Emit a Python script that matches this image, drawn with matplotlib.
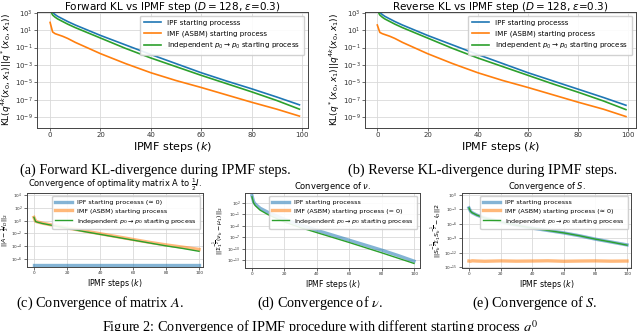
import matplotlib.pyplot as plt
import numpy as np

W, H = 640, 331

# ---- data (log10 values) ----
k_top = [0, 1, 2, 3, 5, 7, 10, 15, 20, 30, 40, 50, 60, 70, 80, 90, 99]
fwd_ipf = [3.6, 3.05, 2.8, 2.6, 2.3, 2.0, 1.6, 1.0, 0.4, -0.7, -1.8, -2.85, -3.9, -4.85, -5.75, -6.7, -7.6]
fwd_imf = [1.9, 0.8, 0.6, 0.5, 0.3, 0.05, -0.4, -1.05, -1.7, -2.85, -3.9, -4.8, -5.6, -6.45, -7.3, -8.1, -8.9]
fwd_ind = [3.3, 2.75, 2.5, 2.3, 2.0, 1.7, 1.3, 0.7, 0.1, -1.1, -2.2, -3.2, -4.2, -5.15, -6.1, -7.1, -8.1]

rev_ipf = [3.6, 3.05, 2.8, 2.6, 2.3, 2.0, 1.6, 1.0, 0.4, -0.7, -1.8, -2.85, -3.9, -4.85, -5.8, -6.75, -7.65]
rev_imf = [1.6, 0.75, 0.6, 0.5, 0.3, 0.05, -0.4, -1.05, -1.7, -2.85, -3.9, -4.8, -5.6, -6.45, -7.3, -8.1, -8.95]
rev_ind = [3.3, 2.75, 2.5, 2.3, 2.0, 1.7, 1.3, 0.7, 0.1, -1.1, -2.2, -3.2, -4.2, -5.2, -6.15, -7.15, -8.15]

k_bot = [0, 1, 2, 5, 10, 20, 30, 40, 50, 60, 70, 80, 90, 100]
A_ipf = [-7.0] * 14
A_imf = [0.5, -0.1, -0.2, -0.4, -0.65, -1.15, -1.6, -2.05, -2.5, -2.95, -3.4, -3.8, -4.15, -4.5]
A_ind = [0.5, -0.15, -0.25, -0.45, -0.7, -1.2, -1.7, -2.15, -2.6, -3.05, -3.5, -3.95, -4.35, -4.8]

nu_ipf = [3.9, 2.3, 1.7, 0.6, -0.5, -2.3, -3.8, -5.2, -6.5, -7.8, -9.1, -10.4, -11.8, -13.3]
nu_imf = [0.0] * 14
nu_ind = [3.6, 2.0, 1.3, 0.1, -1.1, -3.0, -4.5, -5.8, -7.1, -8.4, -9.75, -11.1, -12.5, -13.9]

S_ipf = [-2.7, -3.4, -3.7, -4.2, -4.8, -5.6, -6.3, -6.9, -7.4, -7.9, -8.5, -9.2, -9.8, -10.4]
S_imf = [-13.75, -13.8, -13.7, -13.75, -13.8, -13.72, -13.78, -13.75, -13.7, -13.8, -13.75, -13.72, -13.78, -13.75]
S_ind = [-2.7, -3.4, -3.7, -4.2, -4.8, -5.6, -6.3, -6.9, -7.4, -7.9, -8.5, -9.2, -9.8, -10.45]

lab_ipf = "IPF starting processs"
lab_imf = "IMF (ASBM) starting process"
lab_ind = r"Independent $p_0 \to p_0$ starting process"

C_B, C_O, C_G = "#1f77b4", "#ff7f0e", "#2ca02c"

fig = plt.figure(figsize=(W / 100, H / 100), dpi=100)


def rect(l, r, t, b):
    return [l / W, 1 - b / H, (r - l) / W, (b - t) / H]


def style(ax, xlim, ylim, yticks, fs):
    ax.set_yscale("log")
    ax.set_xlim(*xlim)
    ax.set_ylim(10 ** ylim[0], 10 ** ylim[1])
    ax.set_xticks([0, 20, 40, 60, 80, 100])
    ax.set_yticks([10.0 ** e for e in yticks])
    ax.set_yticklabels([r"$10^{%d}$" % e for e in yticks])
    ax.yaxis.set_minor_locator(plt.NullLocator())
    ax.tick_params(labelsize=fs, length=2, width=0.5, pad=1.2, colors="#333333")
    ax.grid(True, color="#d9d9d9", lw=0.6)
    ax.set_axisbelow(True)
    for s in ax.spines.values():
        s.set_linewidth(0.7)
        s.set_color("#444444")


def p(v):
    return 10.0 ** np.array(v)


# ---- top row ----
tops = [
    (rect(37, 308, 12, 128), (-5.2, 102.4), fwd_ipf, fwd_imf, fwd_ind,
     r"Forward KL vs IPMF step ($D=128$, $\varepsilon$=0.3)",
     r"KL$(q^{4k}(x_0,x_1)||q^*(x_0,x_1))$"),
    (rect(365, 636, 12, 128), (-4.9, 103.0), rev_ipf, rev_imf, rev_ind,
     r"Reverse KL vs IPMF step ($D=128$, $\varepsilon$=0.3)",
     r"KL$(q^*(x_0,x_1)||q^{4k}(x_0,x_1))$"),
]
for r, xl, a, b, c, title, ylab in tops:
    ax = fig.add_axes(r)
    ax.plot(k_top, p(a), color=C_B, lw=1.2, label=lab_ipf)
    ax.plot(k_top, p(b), color=C_O, lw=1.2, label=lab_imf)
    ax.plot(k_top, p(c), color=C_G, lw=1.2, label=lab_ind)
    style(ax, xl, (-10.27, 3.1), [3, 1, -1, -3, -5, -7, -9], 5.0)
    ax.text(0.5, 1.0 - 1.5 / 116, title, transform=ax.transAxes, fontsize=7.5,
            ha="center", va="bottom")
    ax.set_xlabel(r"IPMF steps ($k$)", fontsize=8, labelpad=1)
    ax.set_ylabel(ylab, fontsize=6.5, labelpad=0.5)
    ax.legend(loc="upper right", fontsize=5.1, handlelength=2.4, borderpad=0.6,
              labelspacing=0.6, framealpha=0.9, edgecolor="#cccccc", fancybox=True)

# ---- bottom row ----
bots = [
    (rect(27, 203, 193, 267), (-4.2, 102.4), (-7.25, 4.3), [4, 2, 0, -2, -4, -6],
     A_ipf, A_imf, A_ind, [" (≈ 0)", "", ""],
     r"Convergence of optimality matrix A to $\frac{1}{2}I$.",
     r"$||A-\frac{1}{2}I_D||_2$", 5),
    (rect(245, 420, 193, 268), (-4.3, 103.7), (-15.1, 4.6), [2, -1, -4, -7, -10, -13],
     nu_ipf, nu_imf, nu_ind, ["", " (= 0)", ""],
     r"Convergence of $\nu$.",
     r"$||\Sigma_1^{-\frac{1}{2}}(\nu_k-\mu_1)||_2$", 219),
    (rect(462, 631, 193, 268), (-4.4, 102.5), (-15.2, 0.4), [0, -3, -6, -9, -12, -15],
     S_ipf, S_imf, S_ind, ["", " (≈ 0)", ""],
     r"Convergence of $S$.",
     r"$||S_k^{-\frac{1}{2}}\Sigma_1 S_k^{-\frac{1}{2}}-I_D||2$", 437),
]
for r, xl, yl, yt, a, b, c, suf, title, ylab, lx in bots:
    ax = fig.add_axes(r)
    ya, yb = p(a), p(b)
    if suf[1] == " (= 0)":
        yb = np.full(len(b), np.nan)
    ax.plot(k_bot, ya, color=C_B, lw=2.4, alpha=0.55, label=lab_ipf + suf[0])
    ax.plot(k_bot, yb, color=C_O, lw=2.4, alpha=0.55, label=lab_imf + suf[1])
    ax.plot(k_bot, p(c), color=C_G, lw=1.0, label=lab_ind + suf[2])
    style(ax, xl, yl, yt, 3.1)
    ax.set_title(title, fontsize=6, pad=1.5)
    ax.set_xlabel(r"IPMF steps ($k$)", fontsize=5.6, labelpad=1)
    ax.set_ylabel(ylab, fontsize=4.5, va="center")
    ax.yaxis.set_label_coords((lx - r[0] * W) / (r[2] * W), 0.5)
    ax.legend(loc="upper right", fontsize=4.6, handlelength=2.6, borderpad=0.5,
              labelspacing=0.5, framealpha=0.9, edgecolor="#cccccc")

# ---- captions ----
serif = "Liberation Serif"
cap = dict(family=serif, fontsize=10.3, ha="center", va="center", math_fontfamily="stix")
fig.text(155 / W, 1 - 170 / H, "(a) Forward KL-divergence during IPMF steps.", **cap)
fig.text(483 / W, 1 - 170 / H, "(b) Reverse KL-divergence during IPMF steps.", **cap)
fig.text(100 / W, 1 - 303 / H, r"(c) Convergence of matrix $A$.", **cap)
fig.text(320 / W, 1 - 303 / H, r"(d) Convergence of $\nu$.", **cap)
fig.text(535 / W, 1 - 303 / H, r"(e) Convergence of $S$.", **cap)
fig.text(320 / W, 1 - 327.5 / H,
         r"Figure 2: Convergence of IPMF procedure with different starting process $q^0$", **cap)

fig.savefig("out.png", dpi=100)
